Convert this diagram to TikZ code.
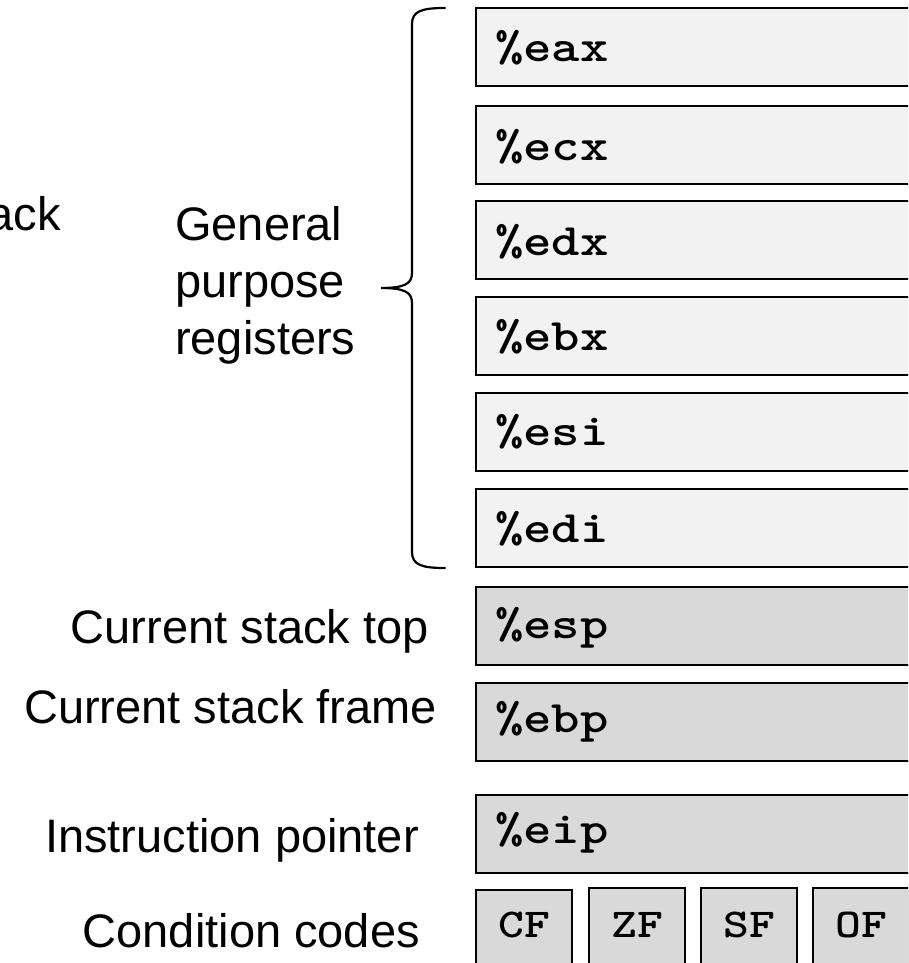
\documentclass[tikz,border=0pt]{standalone}
\usepackage{fontspec}
\setmainfont{Liberation Sans}
\newfontfamily\regmono{lmmonolt10-bold}[Extension=.otf,FakeStretch=1.2]
\usetikzlibrary{calc}
\definecolor{reglight}{RGB}{242,242,242}
\definecolor{regdark}{RGB}{217,217,217}
\begin{document}
\begin{tikzpicture}[x=1pt,y=-1pt,
  lbl/.style={inner sep=0pt,font=\fontsize{47}{56}\selectfont},
  regbox/.style={draw=black,line width=2pt,minimum width=470pt,minimum height=78pt,anchor=north west,inner sep=0pt,outer sep=0pt},
  regl/.style={fill=reglight},
  regd/.style={fill=regdark},
  regtxt/.style={inner sep=0pt,anchor=base west,font=\regmono\fontsize{45}{50}\selectfont},
  flagbox/.style={draw=black,line width=2pt,fill=regdark,minimum width=96pt,minimum height=90pt,anchor=north west,inner sep=0pt,outer sep=0pt},
  flagtxt/.style={inner sep=0pt,anchor=base,font=\regmono\fontsize{41}{48}\selectfont},
  bracestyle/.style={line width=2.2pt,line cap=round}]
\useasboundingbox (0,0) rectangle (908,963);
\clip (0,0) rectangle (908,963);

% register boxes
\node[regbox,regl] (eax) at (476,8) {};
\node[regbox,regl] (ecx) at (476,106) {};
\node[regbox,regl] (edx) at (476,201) {};
\node[regbox,regl] (ebx) at (476,297) {};
\node[regbox,regl] (esi) at (476,393) {};
\node[regbox,regl] (edi) at (476,489) {};
\node[regbox,regd] (esp) at (476,587) {};
\node[regbox,regd] (ebp) at (476,683) {};
\node[regbox,regd] (eip) at (476,795) {};

\node[regtxt] (eaxt) at ($(eax.north west)+(19,54)$) {\%eax};
\node[regtxt] (ecxt) at ($(ecx.north west)+(19,54)$) {\%ecx};
\node[regtxt] (edxt) at ($(edx.north west)+(19,54)$) {\%edx};
\node[regtxt] (ebxt) at ($(ebx.north west)+(19,53)$) {\%ebx};
\node[regtxt] (esit) at ($(esi.north west)+(19,52)$) {\%esi};
\node[regtxt] (edit) at ($(edi.north west)+(19,53)$) {\%edi};
\node[regtxt] (espt) at ($(esp.north west)+(19,51)$) {\%esp};
\node[regtxt] (ebpt) at ($(ebp.north west)+(19,49)$) {\%ebp};
\node[regtxt] (eipt) at ($(eip.north west)+(19,48)$) {\%eip};

% condition code boxes
\node[flagbox] (cf) at (476,890) {};
\node[flagbox] (zf) at (589,888) {};
\node[flagbox] (sf) at (701,888) {};
\node[flagbox] (of) at (813,888) {};
\node[flagtxt] (cft) at ($(cf.north)+(0,47)$) {CF};
\node[flagtxt] (zft) at ($(zf.north)+(0,49)$) {ZF};
\node[flagtxt] (sft) at ($(sf.north)+(0,49)$) {SF};
\node[flagtxt] (oft) at ($(of.north)+(0,49)$) {OF};

% brace
\draw[bracestyle] (445,8) .. controls (422,8) and (412,11) .. (412,24)
  -- (412,273) .. controls (412,284) and (404,288) .. (381,288)
  .. controls (404,288) and (412,292) .. (412,303)
  -- (412,552) .. controls (412,565) and (422,568) .. (445,568);

% labels
\node[lbl,anchor=base east] (ack) at (61,230) {ack};
\node[lbl,anchor=base west] (gen1) at (175,240) {General};
\node[lbl,anchor=base west] (gen2) at (175,297) {purpose};
\node[lbl,anchor=base west] (gen3) at (175,354) {registers};
\node[lbl,anchor=base east] (lesp) at (429,643) {Current stack top};
\node[lbl,anchor=base east] (lebp) at (437,723) {Current stack frame};
\node[lbl,anchor=base east] (leip) at (419,852) {Instruction pointer};
\node[lbl,anchor=base east] (lflags) at (420,947) {Condition codes};
\end{tikzpicture}
\end{document}
